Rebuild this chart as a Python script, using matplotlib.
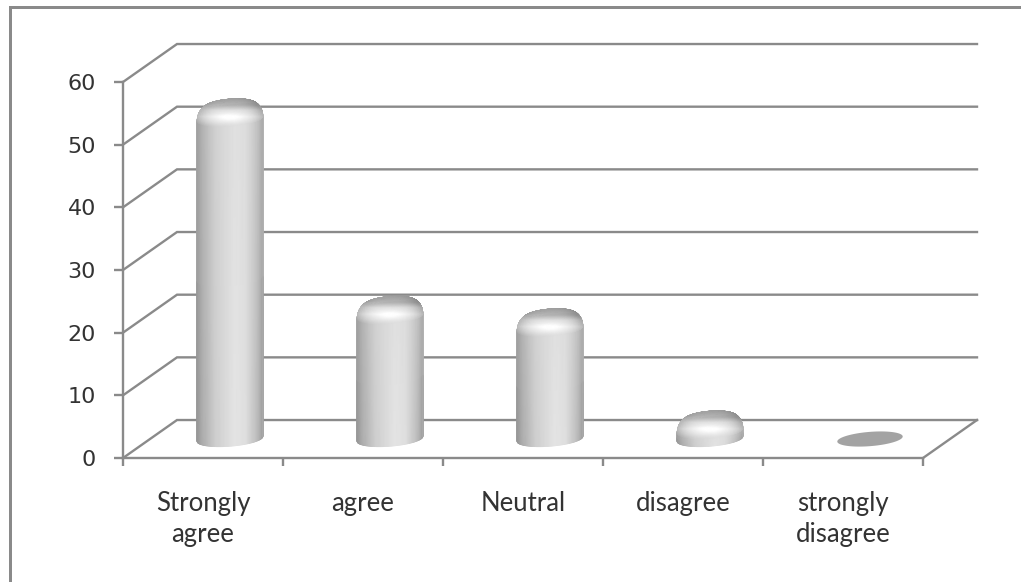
import numpy as np
import matplotlib
matplotlib.use('Agg')
import matplotlib.pyplot as plt
from matplotlib.patches import Rectangle, Polygon

#%% Data

categorias = ['Strongly\nagree', 'agree', 'Neutral', 'disagree', 'strongly\ndisagree']
valores = [53.5, 22, 20, 3.7, 0]
ticks_y = [0, 10, 20, 30, 40, 50, 60]

#%% Style

cinza = '#8a8a8a'
prof_x = 0.3375   # depth of the floor, in category units
prof_y = 6.06     # depth of the floor, in value units
raio_x = 0.193
raio_sx = 0.0675
raio_sy = 1.21
bisel = 2.4
recuo = 0.4

fig = plt.figure(figsize=(10.21, 5.82), dpi=100, facecolor='white')
ax = fig.add_axes([123/1021, 1-458/582, 800/1021, 376/582])
ax.set_xlim(0, 5)
ax.set_ylim(0, 60)
ax.patch.set_visible(False)

# frame left and top
fig.add_artist(Rectangle((9/1021, 0), 3/1021, 1-6/582, transform=fig.transFigure,
                         color=cinza, lw=0))
fig.add_artist(Rectangle((9/1021, 1-8.5/582), 1012/1021, 2.5/582, transform=fig.transFigure,
                         color=cinza, lw=0))

#%% Walls and floor

for v in ticks_y:
    ax.plot([0, prof_x, 5+prof_x], [v, v+prof_y, v+prof_y], color=cinza, lw=1.7,
            clip_on=False, zorder=1, solid_joinstyle='miter')
ax.plot([5, 5+prof_x], [0, prof_y], color=cinza, lw=1.7, clip_on=False, zorder=1)

for lado in ['top', 'right']:
    ax.spines[lado].set_visible(False)
for lado in ['left', 'bottom']:
    ax.spines[lado].set_color(cinza)
    ax.spines[lado].set_linewidth(1.7)

ax.set_yticks(ticks_y)
ax.tick_params(axis='y', length=6.5, width=1.7, color=cinza, labelsize=16,
               labelcolor='#333333', pad=13)
ax.set_xticks(np.arange(6))
ax.set_xticklabels([])
ax.tick_params(axis='x', which='major', length=5.8, width=1.7, color=cinza)
ax.set_xticks(np.arange(5)+0.5, minor=True)
ax.set_xticklabels(categorias, minor=True, family='Lato', fontsize=18.5,
                   color='#333333', linespacing=1.28)
ax.tick_params(axis='x', which='minor', length=0, pad=24)


#%% Cylinders

def cor_cilindro(X, Y, cx, topo):
    xn = (X-cx)/np.hypot(raio_x, raio_sx)
    e = Y-topo
    corpo = np.interp(xn, [-1, -.85, -.45, .15, .5, .85, 1],
                      [.56, .66, .80, .90, .87, .72, .60])
    alto = np.interp(e, [-4.0, -3.0, -2.0, -.9, -.1, .8],
                     [.82, .90, .97, .88, .70, .62])
    alto = alto-0.24*np.abs(xn)**3
    brilho = np.exp(-(xn/.35)**2-((e+2.1)/.7)**2)*0.06
    peso = np.clip((e+5.0)/2.2, 0, 1)
    return np.clip(corpo*(1-peso)+alto*peso+brilho, 0, 1)


def desenha_cilindro(i, v):
    cx = i+0.5+prof_x/2
    cy = prof_y/2
    t0 = np.arctan2(raio_sx, raio_x)
    if v == 0:
        t = np.linspace(0, 2*np.pi, 120)
        xy = np.column_stack([cx+raio_x*np.cos(t)+raio_sx*np.sin(t), cy+raio_sy*np.sin(t)])
        ax.add_patch(Polygon(xy, closed=True, fc='#a3a3a3', ec='none', zorder=3))
        return
    phi = np.linspace(0, np.pi/2, 24)
    s = np.linspace(1, 0, 16)[1:]
    raio = np.r_[1, 1-recuo*(1-np.cos(phi)), (1-recuo)*s]
    alt = np.r_[0, v-bisel+bisel*np.sin(phi), np.full(15, float(v))]
    for inicio in [t0, t0+np.pi]:     # back half first
        t = np.linspace(inicio, inicio+np.pi, 80)
        T, R = np.meshgrid(t, raio)
        H = np.meshgrid(t, alt)[1]
        X = cx+R*(raio_x*np.cos(T)+raio_sx*np.sin(T))
        Y = cy+H+R*raio_sy*np.sin(T)
        C = cor_cilindro(X, Y, cx, cy+v)
        ax.pcolormesh(X, Y, C, shading='gouraud', cmap='gray', vmin=0, vmax=1,
                      zorder=3, clip_on=False)


for i, v in enumerate(valores):
    desenha_cilindro(i, v)

fig.savefig('out.png', dpi=100, facecolor='white')
